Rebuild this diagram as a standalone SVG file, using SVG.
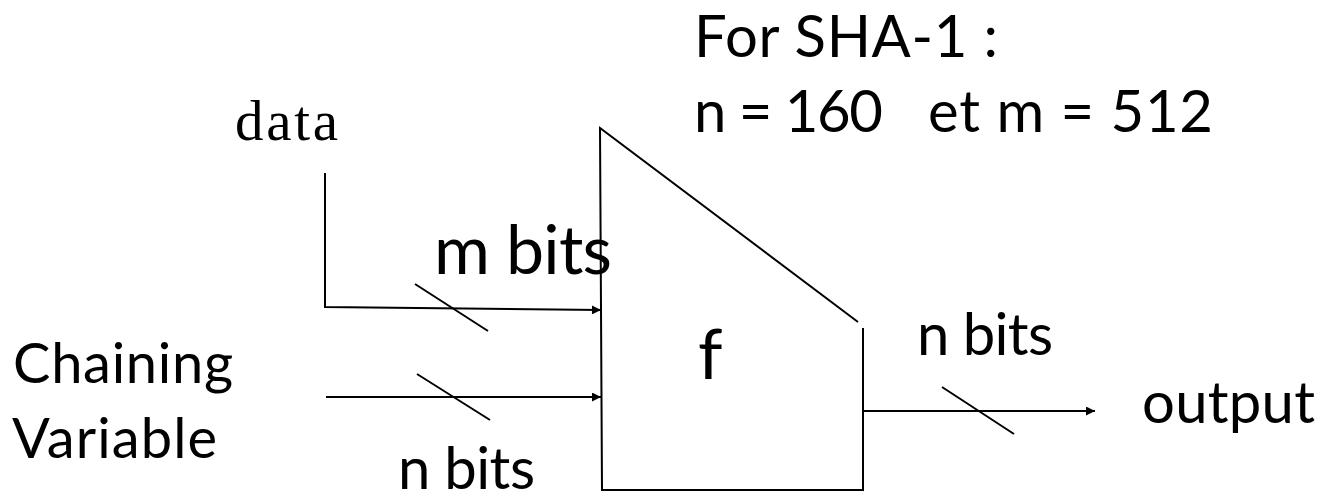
<svg xmlns="http://www.w3.org/2000/svg" width="1319" height="495" viewBox="0 0 1319 495">
  <style>
    .t { font-family: "Lato", "Open Sans", "Liberation Sans", sans-serif; fill: #000; }
    .s { font-family: "Liberation Serif", "DejaVu Serif", serif; fill: #000; }
    .ln { stroke: #000; stroke-width: 2; fill: none; }
  </style>
  <defs>
    <marker id="arr" viewBox="0 0 10 10" refX="10" refY="5" markerWidth="10" markerHeight="9" markerUnits="userSpaceOnUse" orient="auto">
      <path d="M0,0 L10,5 L0,10 Z" fill="#000"/>
    </marker>
  </defs>
  <rect width="1319" height="495" fill="#fff"/>

  <g id="note">
    <text class="t" x="694" y="57" font-size="58" textLength="304">For SHA-1 :</text>
    <text class="t" x="694" y="132" font-size="58" textLength="189">n = 160</text>
    <text class="t" x="928" y="132" font-size="58" textLength="285">et m = 512</text>
  </g>

  <g id="node-f">
    <polyline class="ln" points="858,322 600,128 602,490 863,490 863,328"/>
    <text class="t" x="698" y="379" font-size="70">f</text>
  </g>

  <g id="node-data">
    <text class="s" x="235" y="140" font-size="57" textLength="103">data</text>
  </g>

  <g id="node-chaining">
    <text class="t" x="13" y="383" font-size="56" textLength="220">Chaining</text>
    <text class="t" x="12" y="458" font-size="56" textLength="205">Variable</text>
  </g>

  <g id="node-output">
    <text class="t" x="1142" y="423" font-size="58" textLength="173">output</text>
  </g>

  <g id="connectors">
    <polyline class="ln" points="325,173 325,307 601,310" marker-end="url(#arr)"/>
    <line class="ln" x1="415" y1="284" x2="488" y2="331"/>
    <line class="ln" x1="326" y1="397" x2="601" y2="397" marker-end="url(#arr)"/>
    <line class="ln" x1="417" y1="374" x2="490" y2="420"/>
    <line class="ln" x1="863" y1="411" x2="1095" y2="411" marker-end="url(#arr)"/>
    <line class="ln" x1="942" y1="387" x2="1014" y2="434"/>
  </g>

  <g id="labels">
    <text class="t" x="434" y="274" font-size="68" textLength="178">m bits</text>
    <text class="t" x="917" y="355" font-size="58" textLength="136">n bits</text>
    <text class="t" x="398" y="489" font-size="58" textLength="137">n bits</text>
  </g>
</svg>
